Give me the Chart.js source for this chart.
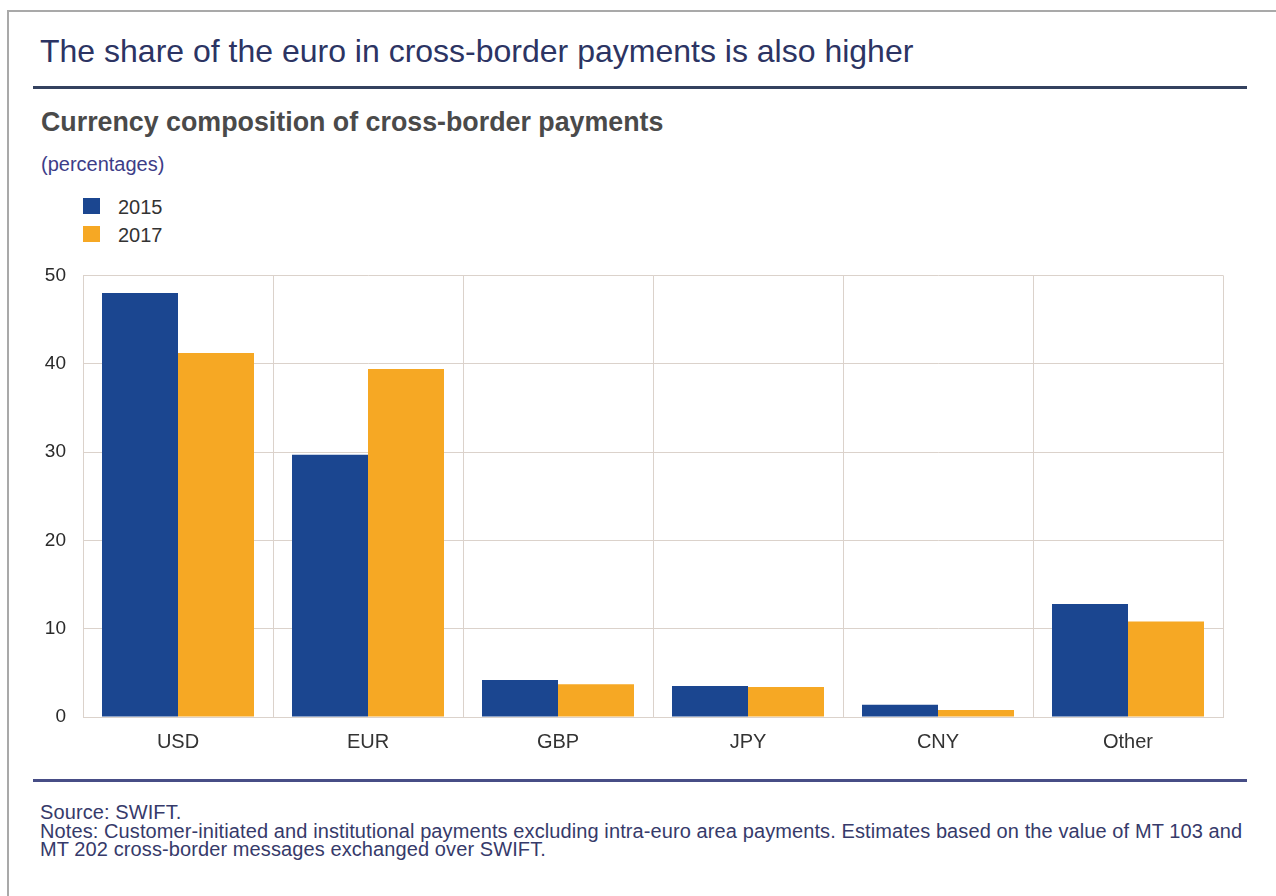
<!DOCTYPE html>
<html>
<head>
<meta charset="utf-8">
<script src="https://cdn.jsdelivr.net/npm/chart.js@4/dist/chart.umd.min.js"></script>
<style>
  html, body { margin: 0; padding: 0; background: #ffffff; }
  body { width: 1276px; height: 896px; position: relative; overflow: hidden;
         font-family: "Liberation Sans", Arial, Helvetica, sans-serif; }
  .frame-top { position: absolute; left: 8px; top: 10px; width: 1268px; height: 0; border-top: 2px solid #a9a9a9; }
  .frame-left { position: absolute; left: 7px; top: 10px; width: 0; height: 886px; border-left: 2px solid #a9a9a9; }
  .title { position: absolute; left: 40px; top: 33px; font-size: 32px; line-height: 36px; color: #2c3463; white-space: nowrap; }
  .rule-top { position: absolute; left: 33px; top: 86px; width: 1214px; height: 3px; background: #34415f; }
  .subtitle { position: absolute; left: 41px; top: 107px; font-size: 26.8px; line-height: 30px; font-weight: bold; color: #4a4a4a; white-space: nowrap; }
  .unit { position: absolute; left: 41px; top: 153px; font-size: 20px; line-height: 22px; color: #3d3d88; white-space: nowrap; }
  .legend { position: absolute; left: 83px; top: 196px; }
  .legend .item { position: relative; height: 28px; }
  .legend .swatch { position: absolute; left: 0; top: 2px; width: 17px; height: 16px; }
  .legend .label { position: absolute; left: 35px; top: 0; font-size: 20px; line-height: 22px; color: #333333; white-space: nowrap; }
  #chartWrap { position: absolute; left: 0; top: 247px; width: 1276px; height: 518px; }
  .rule-bottom { position: absolute; left: 33px; top: 779px; width: 1214px; height: 3px; background: #474d86; }
  .notes { position: absolute; left: 40px; top: 803px; font-size: 20px; line-height: 18.5px; letter-spacing: 0.1px; color: #363a6a; white-space: nowrap; }
</style>
</head>
<body>
<div class="frame-top"></div>
<div class="frame-left"></div>

<div class="title">The share of the euro in cross-border payments is also higher</div>
<div class="rule-top"></div>
<div class="subtitle">Currency composition of cross-border payments</div>
<div class="unit">(percentages)</div>
<div class="legend" id="legend"></div>

<div id="chartWrap"><canvas id="chart" width="1276" height="518"></canvas></div>

<div class="rule-bottom"></div>
<div class="notes">Source: SWIFT.<br>Notes: Customer-initiated and institutional payments excluding intra-euro area payments. Estimates based on the value of MT 103 and<br>MT 202 cross-border messages exchanged over SWIFT.</div>

<script>
// Currency categories and the share of each in cross-border payments (%)
const currencies = ['USD', 'EUR', 'GBP', 'JPY', 'CNY', 'Other'];
const share2015 = [48.0, 29.7, 4.2, 3.5, 1.4, 12.8];
const share2017 = [41.2, 39.4, 3.7, 3.4, 0.8, 10.8];
const seriesNames = ['2015', '2017'];
const yTicks = [0, 10, 20, 30, 40, 50];

const BLUE = '#1b4690';
const ORANGE = '#f6a824';
const GRID = '#dbd2cb';
const FONT = '"Liberation Sans", Arial, Helvetica, sans-serif';

// Simple vertical legend built from the series names
const legendEl = document.getElementById('legend');
[[seriesNames[0], BLUE], [seriesNames[1], ORANGE]].forEach(([name, color]) => {
  const item = document.createElement('div');
  item.className = 'item';
  item.innerHTML = '<span class="swatch" style="background:' + color + '"></span><span class="label">' + name + '</span>';
  legendEl.appendChild(item);
});

new Chart(document.getElementById('chart'), {
  type: 'bar',
  data: {
    labels: currencies,
    datasets: [
      { label: seriesNames[0], data: share2015, backgroundColor: BLUE, borderWidth: 0,
        categoryPercentage: 0.8, barPercentage: 1.0 },
      { label: seriesNames[1], data: share2017, backgroundColor: ORANGE, borderWidth: 0,
        categoryPercentage: 0.8, barPercentage: 1.0 }
    ]
  },
  options: {
    responsive: false,
    devicePixelRatio: 1,
    animation: false,
    layout: { padding: { top: 12, right: 53, left: 0, bottom: 0 } },
    plugins: {
      legend: { display: false },
      title: { display: false },
      tooltip: { enabled: false }
    },
    scales: {
      x: {
        offset: true,
        grid: { display: true, offset: true, color: GRID, lineWidth: 1, drawTicks: false },
        border: { display: true, color: GRID, width: 1 },
        ticks: { color: '#333333', font: { family: FONT, size: 20 }, padding: 13, maxRotation: 0 },
        afterFit: (scale) => { scale.height = 48; }
      },
      y: {
        min: 0,
        max: 50,
        afterBuildTicks: (scale) => { scale.ticks = yTicks.map(v => ({ value: v })); },
        grid: { color: GRID, lineWidth: 1, drawTicks: false },
        border: { display: true, color: GRID, width: 1 },
        ticks: { color: '#2a2a2a', font: { family: FONT, size: 19 }, padding: 17 },
        afterFit: (scale) => { scale.width = 83; }
      }
    }
  }
});
</script>
</body>
</html>
